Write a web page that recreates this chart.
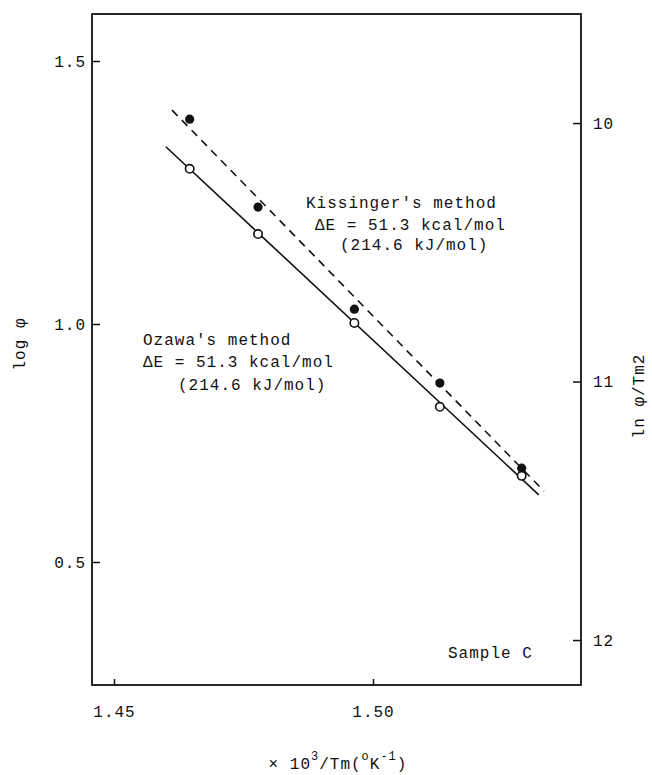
<!DOCTYPE html>
<html lang="en">
  <head>
    <meta charset="UTF-8" />
    <title>Sample C - Ozawa and Kissinger plots</title>
    <style>
      body {
        margin: 0;
        background: #fff;
      }
      text {
        font-family: "Liberation Mono", "DejaVu Sans Mono", monospace;
        font-size: 16px;
        letter-spacing: 1px;
        fill: #111;
      }
    </style>
  </head>
  <body>
    <div id="chart"></div>

    <script src="https://d3js.org/d3.v7.min.js"></script>

    <script>
      // x: 10^3/Tm, same for both methods
      const tmInv = [1.4646, 1.4778, 1.4964, 1.5129, 1.5287];
      // Ozawa: log phi (left axis, open circles)
      const logPhi = [1.295, 1.171, 1.002, 0.826, 0.681];
      // Kissinger: ln phi/Tm^2 (right axis, filled circles)
      const lnPhiTm2 = [9.985, 10.325, 10.72, 11.006, 11.335];

      // fitted lines, end points
      const ozawaFitX = [1.46, 1.532];
      const ozawaFitY = [1.337, 0.641];
      const kissFitX = [1.4612, 1.533];
      const kissFitY = [9.95, 11.424];

      const xTicks = [1.45, 1.5];
      const leftTicks = [0.5, 1.0, 1.5];
      const rightTicks = [10, 11, 12];

      const w = 652;
      const h = 775;
      const plotL = 92,
        plotR = 581,
        plotT = 14,
        plotB = 685;

      const svg = d3
        .select("#chart")
        .append("svg")
        .attr("width", w)
        .attr("height", h);

      const x = d3
        .scaleLinear()
        .domain([1.44575, 1.54015])
        .range([plotL, plotR]);

      // the left scale of the original is not quite even, follow it piecewise
      const yL = d3
        .scaleLinear()
        .domain([0.2416, 0.5, 1.0, 1.5, 1.589])
        .range([plotB, 562, 324, 61, plotT]);

      // right axis runs downward
      const yR = d3
        .scaleLinear()
        .domain([9.578, 12.174])
        .range([plotT, plotB]);

      // frame
      svg
        .append("rect")
        .attr("x", plotL)
        .attr("y", plotT)
        .attr("width", plotR - plotL)
        .attr("height", plotB - plotT)
        .attr("fill", "none")
        .attr("stroke", "#111")
        .attr("stroke-width", 1.8);

      // axes, ticks pointing inward
      const gx = svg
        .append("g")
        .attr("transform", `translate(0, ${plotB})`)
        .call(
          d3
            .axisBottom(x)
            .tickValues(xTicks)
            .tickFormat(d3.format(".2f"))
            .tickSize(-6)
            .tickPadding(21)
        );

      const gl = svg
        .append("g")
        .attr("transform", `translate(${plotL}, 0)`)
        .call(
          d3
            .axisLeft(yL)
            .tickValues(leftTicks)
            .tickFormat(d3.format(".1f"))
            .tickSize(-8)
            .tickPadding(6)
        );

      const gr = svg
        .append("g")
        .attr("transform", `translate(${plotR}, 0)`)
        .call(
          d3
            .axisRight(yR)
            .tickValues(rightTicks)
            .tickFormat(d3.format("d"))
            .tickSize(-8)
            .tickPadding(12)
        );

      [gx, gl, gr].forEach((g) => {
        g.attr("font-family", null).attr("font-size", null);
        g.select(".domain").remove();
        g.selectAll(".tick line")
          .attr("stroke", "#111")
          .attr("stroke-width", 1.5);
        g.selectAll(".tick text").attr("fill", "#111");
      });

      // fitted lines
      const ozawaLine = d3
        .line()
        .x((d) => x(d[0]))
        .y((d) => yL(d[1]));
      const kissLine = d3
        .line()
        .x((d) => x(d[0]))
        .y((d) => yR(d[1]));

      svg
        .append("path")
        .datum(d3.zip(kissFitX, kissFitY))
        .attr("d", kissLine)
        .attr("fill", "none")
        .attr("stroke", "#111")
        .attr("stroke-width", 1.6)
        .attr("stroke-dasharray", "8,6");

      svg
        .append("path")
        .datum(d3.zip(ozawaFitX, ozawaFitY))
        .attr("d", ozawaLine)
        .attr("fill", "none")
        .attr("stroke", "#111")
        .attr("stroke-width", 1.6);

      // points
      svg
        .selectAll(".kiss")
        .data(d3.zip(tmInv, lnPhiTm2))
        .enter()
        .append("circle")
        .attr("class", "kiss")
        .attr("cx", (d) => x(d[0]))
        .attr("cy", (d) => yR(d[1]))
        .attr("r", 4.6)
        .attr("fill", "#111");

      svg
        .selectAll(".ozawa")
        .data(d3.zip(tmInv, logPhi))
        .enter()
        .append("circle")
        .attr("class", "ozawa")
        .attr("cx", (d) => x(d[0]))
        .attr("cy", (d) => yL(d[1]))
        .attr("r", 4.2)
        .attr("fill", "#fff")
        .attr("stroke", "#111")
        .attr("stroke-width", 1.6);

      // annotations
      const notes = [
        ["Kissinger's method", 306, 208],
        ["\u0394E = 51.3 kcal/mol", 315, 230],
        ["(214.6 kJ/mol)", 340, 250],
        ["Ozawa's method", 143, 345],
        ["\u0394E = 51.3 kcal/mol", 143, 367],
        ["(214.6 kJ/mol)", 178, 390],
        ["Sample C", 448, 658],
      ];
      svg
        .selectAll(".note")
        .data(notes)
        .enter()
        .append("text")
        .attr("class", "note")
        .attr("x", (d) => d[1])
        .attr("y", (d) => d[2])
        .text((d) => d[0]);

      // axis titles
      svg
        .append("text")
        .attr("transform", "translate(19, 344) rotate(-90)")
        .attr("text-anchor", "middle")
        .attr("dy", "0.35em")
        .text("log \u03c6");

      svg
        .append("text")
        .attr("transform", "translate(638, 396) rotate(-90)")
        .attr("text-anchor", "middle")
        .attr("dy", "0.35em")
        .text("ln \u03c6/Tm2");

      const xt = svg
        .append("text")
        .attr("x", 338)
        .attr("y", 769)
        .attr("text-anchor", "middle");
      xt.append("tspan").text("\u00d7 10");
      xt.append("tspan").attr("dy", -9).style("font-size", "12px").text("3");
      xt.append("tspan").attr("dy", 9).text("/Tm(");
      xt.append("tspan").attr("dy", -9).style("font-size", "12px").text("o");
      xt.append("tspan").attr("dy", 9).text("K");
      xt.append("tspan").attr("dy", -9).style("font-size", "12px").text("-1");
      xt.append("tspan").attr("dy", 9).text(")");
    </script>
  </body>
</html>
